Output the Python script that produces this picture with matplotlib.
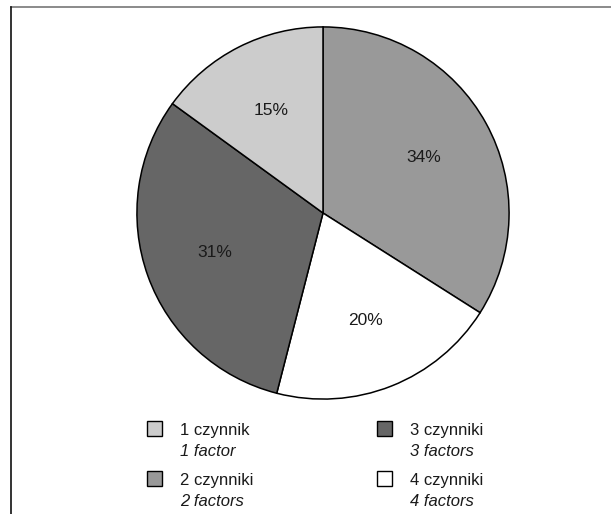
import matplotlib
matplotlib.use("Agg")
import matplotlib.pyplot as plt
from matplotlib import font_manager
from matplotlib.patches import Rectangle
from matplotlib.lines import Line2D
import numpy as np

# Share of respondents by number of factors (clockwise from the top)
categories_pl = ["2 czynniki", "4 czynniki", "3 czynniki", "1 czynnik"]
categories_en = ["2 factors", "4 factors", "3 factors", "1 factor"]
shares = [34, 20, 31, 15]
colors = ["#999999", "#ffffff", "#666666", "#cccccc"]

# Legend order (column-wise): 1, 2 | 3, 4
legend_order = [3, 0, 2, 1]

available = {f.name for f in font_manager.fontManager.ttflist}
family = "Liberation Sans Narrow" if "Liberation Sans Narrow" in available else "Liberation Sans"
plt.rcParams["font.family"] = [family, "DejaVu Sans"]

W, H = 611, 514
fig = plt.figure(figsize=(W / 100, H / 100), dpi=100)
fig.patch.set_facecolor("white")

def fx(px):
    return px / W

def fy(py):
    return 1 - py / H

# Partial frame: top and left edges
fig.add_artist(Line2D([fx(11), fx(611)], [fy(7), fy(7)], color="#777777", lw=1.2))
fig.add_artist(Line2D([fx(11), fx(11)], [fy(7), fy(514)], color="#111111", lw=1.2))

# Pie
cx, cy, r = 323, 213, 187
ax = fig.add_axes([fx(cx - r), fy(cy + r), 2 * r / W, 2 * r / H])
wedges, _ = ax.pie(shares, colors=colors, startangle=90, counterclock=False,
                   wedgeprops=dict(edgecolor="black", linewidth=1.1))
ax.set_xlim(-1.005, 1.005)
ax.set_ylim(-1.005, 1.005)
ax.set_aspect("equal")
ax.axis("off")

for w, v in zip(wedges, shares):
    ang = np.deg2rad((w.theta1 + w.theta2) / 2)
    ax.text(0.62 * np.cos(ang), 0.62 * np.sin(ang), f"{v}%",
            ha="center", va="center", fontsize=12.5, color="#1a1a1a")

# Legend
col_x = [147, 377]
row_y = [428, 478]
box = 15
for k, idx in enumerate(legend_order):
    col, row = divmod(k, 2)
    x0, y0 = col_x[col], row_y[row]
    fig.add_artist(Rectangle((fx(x0), fy(y0 + box / 2)), box / W, box / H,
                             facecolor=colors[idx], edgecolor="black", lw=1.0,
                             transform=fig.transFigure))
    fig.text(fx(x0 + 33), fy(y0 + 2), categories_pl[idx], ha="left", va="center",
             fontsize=12, color="#1a1a1a")
    fig.text(fx(x0 + 33), fy(y0 + 24), categories_en[idx], ha="left", va="center",
             fontsize=12, style="italic", color="#1a1a1a")

fig.savefig("out.png", dpi=100, facecolor="white")
